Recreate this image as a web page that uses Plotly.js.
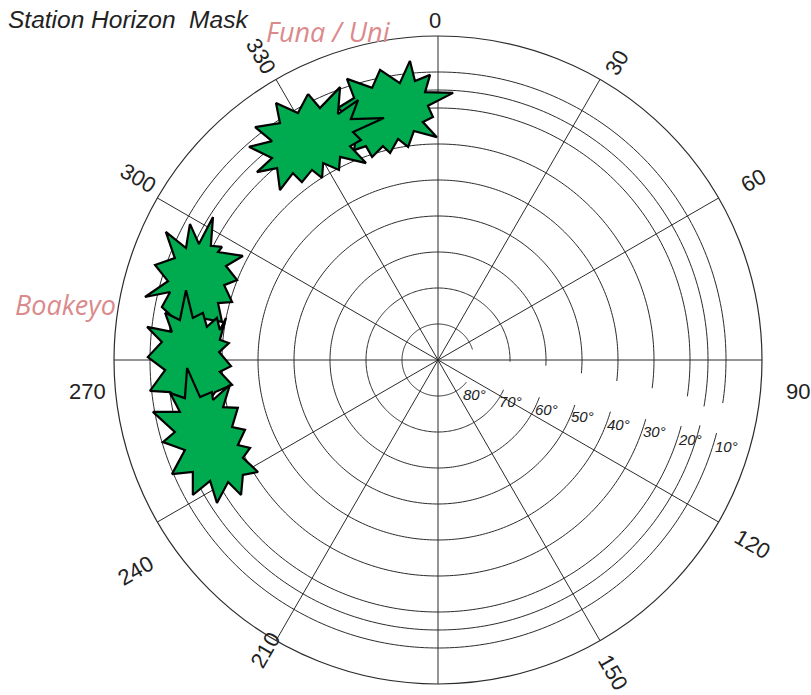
<!DOCTYPE html>
<html>
<head>
<meta charset="utf-8">
<script src="https://cdn.plot.ly/plotly-3.0.1.min.js"></script>
<style>html,body{margin:0;padding:0;background:#fff;}#chart{width:811px;height:695px;}</style>
</head>
<body>
<div id="chart"></div>
<script>
// ---------------- data ----------------
const ringElevations = [80, 70, 60, 50, 40, 30, 20, 15, 10];
const ringLabels     = ['80°', '70°', '60°', '50°', '40°', '30°', '20°', '', '10°'];
const ringGapFrom    = [73, 91.3, 93, 95.3, 96.7, 97.5, 98.3, 99.9, 98.6];
const ringGapTo      = [128, 114.4, 110.2, 108.2, 106.7, 105.9, 105.2, 104, 104.7];

const azimuthTicks  = [0, 30, 60, 90, 120, 150, 210, 240, 270, 300, 330];
const azimuthLabels = ['0', '30', '60', '90', '120', '150', '210', '240', '270', '300', '330'];

const siteNames = ['Funa / Uni', 'Boakeyo'];

// obstruction outlines, sky-plane coordinates (east, north) in degrees of zenith distance
const funaEast = [[-7.8,83.1],[-6.4,77.5],[-2.2,79.2],[-3.6,74.4],[4.2,74.2],[-2.8,70.6],[-1.4,67.5],[-4.2,66.1],
  [-0.3,61.9],[-6.7,63.6],[-8.3,59.2],[-11.1,61.4],[-13.3,57.5],[-15.3,59.4],[-18.3,56.4],[-20,59.4],[-23.3,58.3],
  [-22.8,62.2],[-26.9,63.6],[-23.9,66.7],[-27.8,70],[-23.3,72.8],[-25.3,78.1],[-18.3,75.6],[-16.1,80.6],[-10.6,76.9]];
const funaWest = [[-36.1,73.9],[-32.8,70],[-27.2,75.8],[-27.8,68.3],[-22.2,72.2],[-24.2,66.9],[-15,67.2],[-23.6,63.3],
  [-21.4,61.1],[-24.4,59.4],[-20,54.7],[-27.2,56.4],[-27.5,52.8],[-31.9,54.7],[-32.2,50.6],[-35,52.8],[-37.8,49.4],
  [-40.3,51.9],[-43.9,47.2],[-44.7,53.3],[-50.3,52.2],[-46.1,56.1],[-52.5,59.2],[-46.1,60.8],[-50.8,64.7],[-43.9,65.8],
  [-45,71.4],[-38.9,68.6]];
const boakeyoNorth = [[-68.9,37.8],[-66.4,32.2],[-62.5,39.7],[-63.1,31.7],[-60,31.4],[-61.1,30],[-54.2,28.9],[-58.9,26.1],
  [-55.8,22.2],[-59.4,20.8],[-57.2,16.1],[-61.1,15.8],[-60,10.6],[-66.1,11.7],[-70,8.5],[-76.7,14.7],[-74.4,18.9],
  [-81.4,17.5],[-75,21.9],[-78.6,26.4],[-73.1,28.3],[-75.6,35.6],[-70,31.1]];
const boakeyoMid = [[-70,19.4],[-68.1,11.7],[-65.3,13.1],[-64.2,9.2],[-61.4,11.7],[-60.6,8.3],[-58.9,11.7],[-60.6,5.6],
  [-58.1,4.7],[-60.8,2.2],[-57.5,-1.7],[-60.6,-3.3],[-57.2,-6.9],[-61.9,-8.9],[-63.9,-11.7],[-67.5,-9.7],[-70.3,-12.5],
  [-74.4,-8.9],[-80,-8.6],[-75.8,-2.8],[-80.6,0.8],[-76.7,5],[-80.8,9.2],[-73.9,7.8],[-75.8,13.1],[-71.7,11.1]];
const boakeyoSouth = [[-69.7,-2.2],[-66.1,-10.3],[-62.8,-8.9],[-62.5,-11.1],[-57.8,-6.9],[-59.7,-13.1],[-55.6,-13.3],
  [-57.2,-18.6],[-53.6,-19.4],[-55.6,-23.6],[-52.2,-24.4],[-54.2,-27.2],[-50,-31.1],[-54.2,-31.9],[-54.7,-37.5],
  [-58.3,-33.9],[-61.4,-39.7],[-63.3,-33.6],[-68.1,-37.5],[-68.1,-31.1],[-73.9,-31.7],[-70.3,-25],[-76.4,-22.8],
  [-73.1,-20],[-79.2,-14.4],[-71.7,-14.4],[-74.4,-9.2],[-70.3,-10.6]];
const obstructions = [funaEast, funaWest, boakeyoNorth, boakeyoMid, boakeyoSouth];

// ---------------- presentation settings ----------------
const W = 811, H = 695;
const CX = 438, CY = 360, RPX = 324;
// where each azimuth label sits: [direction (deg), distance from centre (px), rotation, x shift, y shift]
const labelPlacement = [
  [0, 339, 0, -3.5, 0], [31.1, 347, -60, 0, 0], [60.3, 363, -30, 0, 0], [90, 360, 0, 0, 31],
  [120.4, 365, 30, 0, 0], [150.7, 358, 60, 0, 0], [210.7, 337, -60, 0, 0], [235.2, 368, -30, 0, 0],
  [270, 350.5, 0, 0, 31], [301.3, 350, 30, 0, 0], [329.7, 351, 60, 0, 0]];

const polarDomain = { x: [(CX - RPX) / W, (CX + RPX) / W], y: [(H - CY - RPX) / H, (H - CY + RPX) / H] };
const toPaper = (px, py) => ({ x: px / W, y: 1 - py / H });
const dirToPx = (az, d) => {
  const a = az * Math.PI / 180;
  return [CX + d * Math.sin(a), CY - d * Math.cos(a)];
};

const traces = [];
const gridColor = '#2b2b2b';

// elevation rings with a gap for their labels
ringElevations.forEach((el, i) => {
  const th = [], rr = [];
  for (let t = ringGapTo[i]; t <= ringGapFrom[i] + 360 + 1e-9; t += 1) { th.push(t % 360); rr.push(90 - el); }
  th.push(ringGapFrom[i]); rr.push(90 - el);
  traces.push({ type: 'scatterpolar', mode: 'lines', theta: th, r: rr,
    line: { color: gridColor, width: 1 }, hoverinfo: 'skip', showlegend: false });
});

// obstructions
obstructions.forEach(poly => {
  const pts = poly.concat([poly[0]]);
  traces.push({ type: 'scatterpolar', mode: 'lines', fill: 'toself', fillcolor: '#00ab4f',
    theta: pts.map(p => (Math.atan2(p[0], p[1]) * 180 / Math.PI + 360) % 360),
    r: pts.map(p => Math.hypot(p[0], p[1])),
    line: { color: '#000', width: 2.2 }, hoverinfo: 'skip', showlegend: false });
});

const annotations = [];
const axisFont = { family: 'Liberation Sans, Arial, sans-serif', size: 22, color: '#222' };

// azimuth labels
azimuthTicks.forEach((az, i) => {
  const [dir, dist, ang, dx, dy] = labelPlacement[i];
  const [px, py] = dirToPx(dir, dist);
  const p = toPaper(px + dx, py + dy);
  annotations.push({ xref: 'paper', yref: 'paper', x: p.x, y: p.y, xanchor: 'center', yanchor: 'middle',
    text: azimuthLabels[i], textangle: ang, showarrow: false, font: axisFont });
});

// ring labels
ringElevations.forEach((el, i) => {
  if (!ringLabels[i]) return;
  const d = RPX * (90 - el) / 90;
  const p = toPaper(CX + d, CY + 26.5 + 0.21 * d);
  annotations.push({ xref: 'paper', yref: 'paper', x: p.x, y: p.y, xanchor: 'center', yanchor: 'middle',
    text: '<i>' + ringLabels[i] + '</i>', showarrow: false,
    font: { family: 'Liberation Sans, Arial, sans-serif', size: 15, color: '#222' } });
});

// title and site names
const tp = toPaper(6, 19);
annotations.push({ xref: 'paper', yref: 'paper', x: tp.x, y: tp.y, xanchor: 'left', yanchor: 'middle',
  text: '<i>Station Horizon\u00a0 Mask</i>', showarrow: false,
  font: { family: 'Liberation Sans, Arial, sans-serif', size: 24.5, color: '#222' } });
const siteFont = { family: 'Open Sans, Lato, sans-serif', size: 27, color: '#db8a8c' };
const f1 = toPaper(328, 32), f2 = toPaper(65, 305);
annotations.push({ xref: 'paper', yref: 'paper', x: f1.x, y: f1.y, xanchor: 'center', yanchor: 'middle',
  text: '<i>' + siteNames[0] + '</i>', showarrow: false, font: siteFont });
annotations.push({ xref: 'paper', yref: 'paper', x: f2.x, y: f2.y, xanchor: 'center', yanchor: 'middle',
  text: '<i>' + siteNames[1] + '</i>', showarrow: false, font: siteFont });

const layout = {
  width: W, height: H,
  margin: { l: 0, r: 0, t: 0, b: 0 },
  paper_bgcolor: '#fff',
  showlegend: false,
  polar: {
    domain: polarDomain,
    bgcolor: '#fff',
    radialaxis: { range: [0, 90], visible: false },
    angularaxis: { direction: 'clockwise', rotation: 90, dtick: 30, tick0: 0,
      showgrid: true, gridcolor: gridColor, gridwidth: 1,
      showline: true, linecolor: gridColor, linewidth: 1.2,
      ticks: '', showticklabels: false }
  },
  annotations: annotations
};

Plotly.newPlot('chart', traces, layout, { staticPlot: true, displayModeBar: false });
</script>
</body>
</html>
